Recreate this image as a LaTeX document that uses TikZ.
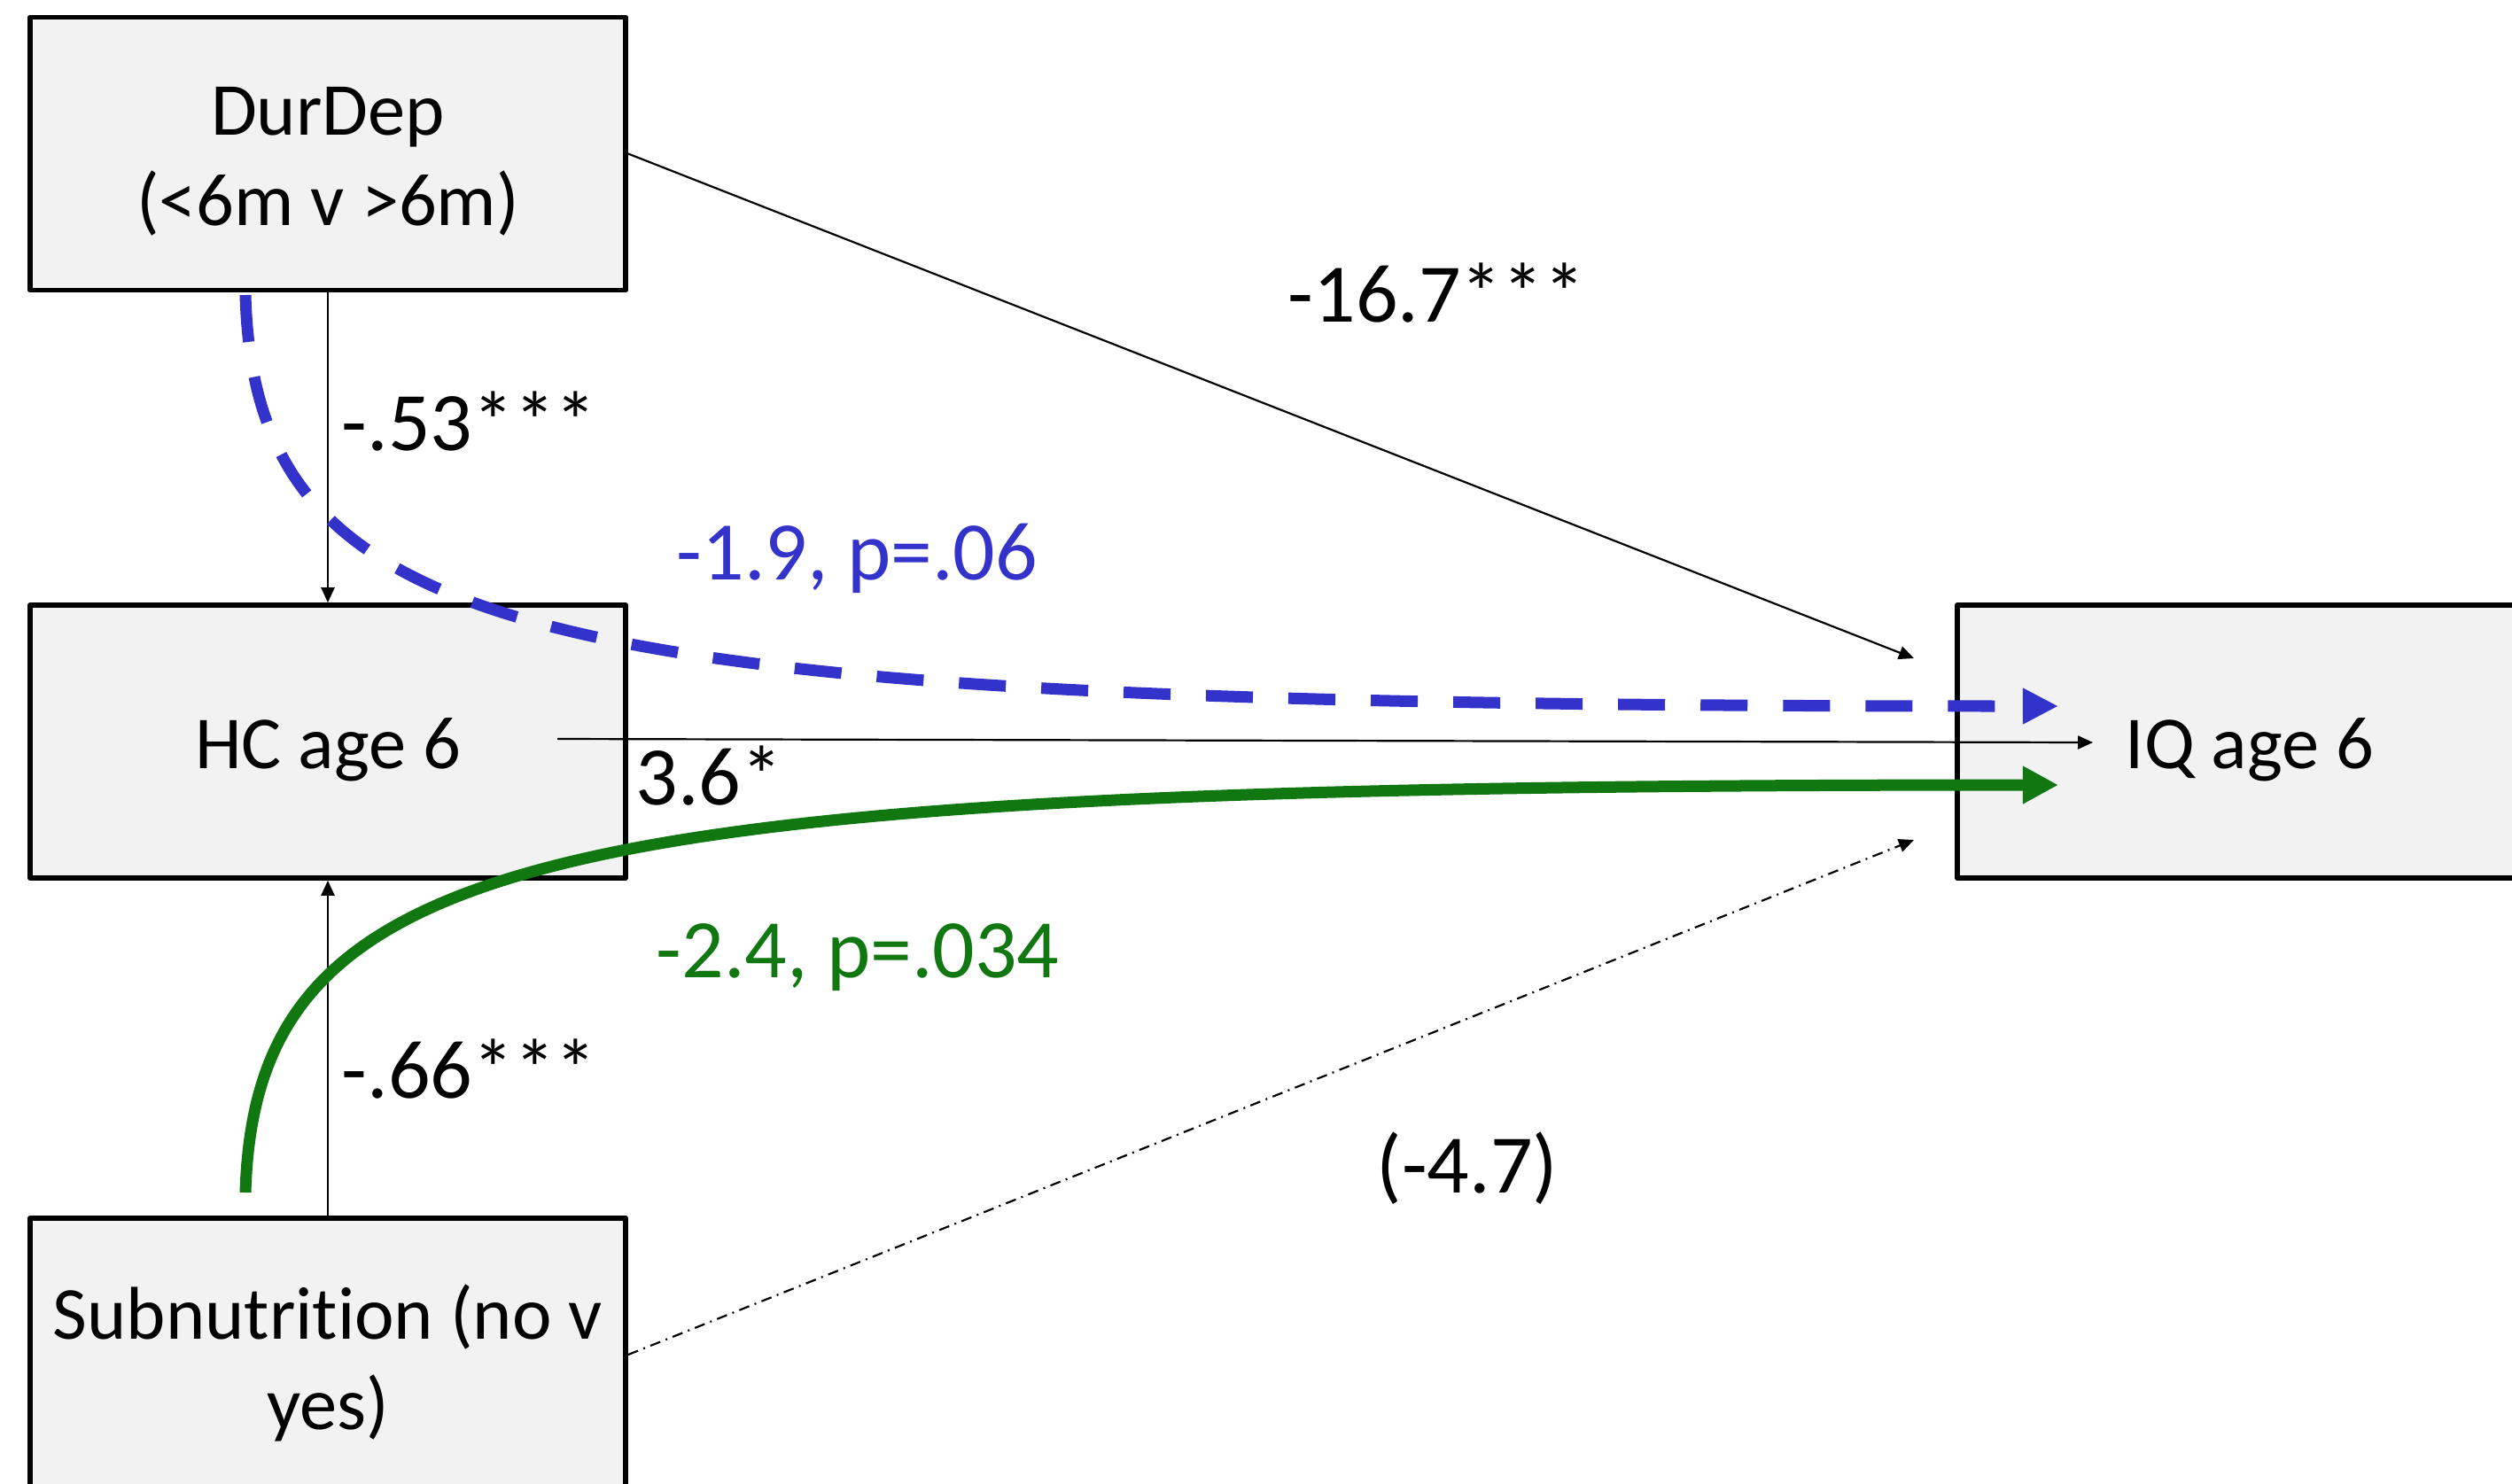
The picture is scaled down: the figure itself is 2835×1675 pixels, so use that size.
\documentclass[tikz,border=0pt]{standalone}
\usepackage{fontspec}
\setmainfont{Carlito}[Ligatures={NoCommon}]
\usetikzlibrary{arrows.meta}
\definecolor{boxfill}{HTML}{F2F2F2}
\definecolor{pathblue}{HTML}{3333CC}
\definecolor{pathgreen}{HTML}{117711}
\begin{document}
\begin{tikzpicture}[x=0.01cm,y=-0.01cm,
  varbox/.style={draw=black, line width=0.055cm, fill=boxfill, minimum width=6.72cm,
    minimum height=3.08cm, inner sep=0pt, line join=round},
  boxtext/.style={align=center, inner sep=0pt, yshift=-0.09cm,
    font=\fontsize{24}{29}\selectfont},
  thinarrow/.style={line width=0.022cm, -{Triangle[length=0.17cm,width=0.15cm]}},
  dashdotline/.style={dash pattern=on 0.12cm off 0.065cm on 0.02cm off 0.065cm},
  coef/.style={font=\fontsize{26.7}{32}\selectfont, inner sep=0pt, anchor=base west},
  bluepath/.style={draw=pathblue, line width=0.13cm, dash pattern=on 0.53cm off 0.40cm,
    -{Triangle[length=0.40cm,width=0.38cm]}},
  greenpath/.style={draw=pathgreen, line width=0.13cm, -{Triangle[length=0.40cm,width=0.40cm]}}
]
\useasboundingbox (0,0) rectangle (2835,1675);
% boxes
\node[varbox, label={[boxtext]center:DurDep\\(<6m v >6m)}] (dur) at (370,173.5) {};
\node[varbox, label={[boxtext]center:HC age 6}] (hc) at (370,837) {};
\node[varbox, label={[boxtext, xshift=-0.06cm]center:IQ age 6}] (iq) at (2545,837) {};
\node[varbox, label={[boxtext]center:Subnutrition (no v\\yes)}] (sub) at (370,1529) {};
% free connector ends
\coordinate (durIQend) at (2160,743);
\coordinate (subIQend) at (2160,948);
\coordinate (hcStart) at (629,834);
\coordinate (iqHcEnd) at (2362,838);
\coordinate (blueStart) at (277,333);
\coordinate (blueEnd) at (2323,797);
\coordinate (greenStart) at (277,1346);
\coordinate (greenEnd) at (2323,886);
% connectors
\draw[thinarrow] (dur.south) -- (hc.north);
\draw[thinarrow] (sub.north) -- (hc.south);
\draw[thinarrow] (dur.east) -- (durIQend);
\draw[thinarrow] (hcStart) -- (iqHcEnd);
\draw[thinarrow, dashdotline] (sub.east) -- (subIQend);
\draw[bluepath] (blueStart) .. controls (289,740) and (633,797) .. (blueEnd);
\draw[greenpath] (greenStart) .. controls (289,950) and (633,886) .. (greenEnd);
% labels
\node[coef] (l167) at (1453,363) {-16.7***};
\node[coef] (l53) at (385,508) {-.53***};
\node[coef, text=pathblue] (l19) at (763,654) {-1.9, p=.06};
\node[coef] (l36) at (717,908) {3.6*};
\node[coef, text=pathgreen] (l24) at (740,1103) {-2.4, p=.034};
\node[coef] (l66) at (385,1239) {-.66***};
\node[coef, anchor=base] (l47) at (1656,1346) {(-4.7)};
\end{tikzpicture}
\end{document}
